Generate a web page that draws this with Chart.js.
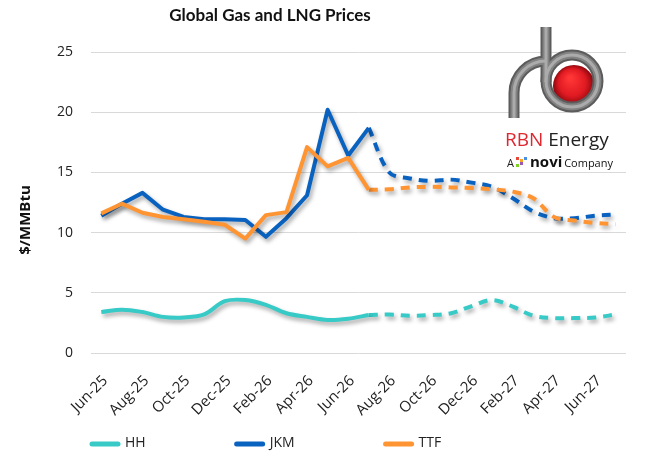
<!DOCTYPE html>
<html>
<head>
<meta charset="utf-8">
<script src="https://cdn.jsdelivr.net/npm/chart.js@4.4.1/dist/chart.umd.min.js"></script>
<style>
  html, body { margin: 0; padding: 0; background: #fff; }
</style>
</head>
<body>
<canvas id="chart" width="650" height="466"></canvas>
<script>
// Meses (Jun-25 .. Jul-27), se rotula uno de cada dos
const months = ['Jun-25', 'Jul-25', 'Aug-25', 'Sep-25', 'Oct-25', 'Nov-25', 'Dec-25', 'Jan-26', 'Feb-26', 'Mar-26',
    'Apr-26', 'May-26', 'Jun-26', 'Jul-26', 'Aug-26', 'Sep-26', 'Oct-26', 'Nov-26', 'Dec-26', 'Jan-27',
    'Feb-27', 'Mar-27', 'Apr-27', 'May-27', 'Jun-27', 'Jul-27']

// $/MMBtu
const hh = [3.4, 3.6, 3.4, 3.0, 2.95, 3.2, 4.3, 4.4, 4.0, 3.3, 3.0, 2.75, 2.85, 3.15,
    3.2, 3.1, 3.15, 3.3, 3.9, 4.4, 3.85, 3.1, 2.9, 2.9, 2.95, 3.2]
const jkm = [11.4, 12.4, 13.3, 11.9, 11.3, 11.1, 11.1, 11.05, 9.65, 11.2, 13.1, 20.2, 16.4, 18.7,
    15.0, 14.5, 14.3, 14.4, 14.15, 13.8, 12.85, 11.75, 11.2, 11.2, 11.4, 11.5]
const ttf = [11.6, 12.4, 11.65, 11.3, 11.1, 10.9, 10.65, 9.5, 11.45, 11.7, 17.1, 15.5, 16.2, 13.55,
    13.6, 13.75, 13.8, 13.75, 13.7, 13.6, 13.4, 12.85, 11.3, 11.0, 10.8, 10.7]

const yTicks = [0, 5, 10, 15, 20, 25]
const lastActual = 13   // Jul-26: despues de este mes la curva es forward (punteada)

const series = [
    { label: 'HH', values: hh, color: '#38CAC6', smooth: 0.35, order: 3 },
    { label: 'JKM', values: jkm, color: '#0A62C0', smooth: 0, order: 2 },
    { label: 'TTF', values: ttf, color: '#FF9433', smooth: 0, order: 1 }
]

// parte historica (solida) y forward (punteada) de cada serie
function histPart(values) { return values.map((v, i) => i <= lastActual ? v : null) }
function fwdPart(values) { return values.map((v, i) => i >= lastActual ? v : null) }

const datasets = []
series.forEach(s => {
    datasets.push({
        label: s.label, data: histPart(s.values), borderColor: s.color, backgroundColor: s.color,
        borderWidth: 4, pointRadius: 0, tension: s.smooth, order: s.order, borderJoinStyle: 'round'
    })
})
series.forEach(s => {
    datasets.push({
        label: s.label + ' fwd', data: fwdPart(s.values), borderColor: s.color, backgroundColor: s.color,
        borderWidth: 4, pointRadius: 0, tension: 0.35, order: s.order, borderDash: [9, 7]
    })
})

// sombra tipo Excel bajo las lineas
const shadowPlugin = {
    id: 'lineShadow',
    beforeDatasetsDraw(chart) {
        const ctx = chart.ctx
        ctx.save()
        ctx.shadowColor = 'rgba(0,0,0,0.35)'
        ctx.shadowBlur = 4
        ctx.shadowOffsetX = 2
        ctx.shadowOffsetY = 3
    },
    afterDatasetsDraw(chart) { chart.ctx.restore() }
}

function drawLogo(ctx) {
    ctx.save()
    // bola roja
    const g = ctx.createRadialGradient(570, 78, 2, 574, 86, 23)
    g.addColorStop(0, '#ff3535')
    g.addColorStop(0.55, '#e01a22')
    g.addColorStop(1, '#6e0006')
    ctx.fillStyle = g
    ctx.beginPath(); ctx.arc(574, 86, 21, 0, Math.PI * 2); ctx.fill()

    // tubo gris "rb"
    const tube = (w, color) => {
        ctx.strokeStyle = color
        ctx.lineWidth = w
        ctx.lineCap = 'butt'
        ctx.beginPath()
        ctx.moveTo(546, 27); ctx.lineTo(546, 82)
        ctx.stroke()
        ctx.beginPath()
        ctx.arc(572, 81, 26, 0, Math.PI * 2)
        ctx.stroke()
        ctx.beginPath()
        ctx.moveTo(514, 118); ctx.lineTo(514, 93)
        ctx.arc(546, 93, 32, Math.PI, Math.PI * 1.5)
        ctx.stroke()
    }
    tube(11, '#5c5c5c')
    tube(7, '#838383')
    tube(3, '#ababab')

    // texto
    ctx.textBaseline = 'alphabetic'
    ctx.textAlign = 'left'
    ctx.font = '19px "Open Sans"'
    ctx.fillStyle = '#e0262f'
    ctx.fillText('RBN', 505, 146)
    const w = ctx.measureText('RBN ').width
    ctx.fillStyle = '#222'
    ctx.fillText('Energy', 505 + w, 146)

    ctx.font = '11px "Open Sans"'
    ctx.fillStyle = '#222'
    ctx.fillText('A', 507, 167)
    // icono novi
    const cols = ['#e8483b', '#f5a623', '#4a90e2', '#7ed321', '#9b59b6']
    for (let i = 0; i < 5; i++) {
        ctx.fillStyle = cols[i]
        ctx.fillRect(516 + (i % 3) * 4, 157 + Math.floor(i / 3) * 5 + (i % 2) * 2, 3, 3)
    }
    ctx.font = 'bold 15px "Open Sans"'
    ctx.fillStyle = '#111'
    ctx.fillText('novi', 530, 167)
    const nw = ctx.measureText('novi ').width
    ctx.font = '11px "Open Sans"'
    ctx.fillText('Company', 530 + nw - 2, 167)
    ctx.restore()
}

// titulo, titulo del eje Y, leyenda y logo
const decorPlugin = {
    id: 'decor',
    afterDraw(chart) {
        const ctx = chart.ctx
        ctx.save()
        ctx.font = 'bold 17px Lato'
        ctx.fillStyle = '#111'
        ctx.textAlign = 'center'
        ctx.textBaseline = 'middle'
        ctx.fillText('Global Gas and LNG Prices', 270, 16)

        ctx.translate(26, 220)
        ctx.rotate(-Math.PI / 2)
        ctx.font = 'bold 15px "Open Sans"'
        ctx.fillText('$/MMBtu', 0, 0)
        ctx.restore()

        ctx.save()
        ctx.font = '14px "Open Sans"'
        ctx.textBaseline = 'middle'
        let x = 90
        series.forEach(s => {
            ctx.strokeStyle = s.color
            ctx.lineWidth = 5
            ctx.lineCap = 'round'
            ctx.beginPath(); ctx.moveTo(x + 2, 444); ctx.lineTo(x + 28, 444); ctx.stroke()
            ctx.fillStyle = '#222'
            ctx.fillText(s.label, x + 35, 443)
            x += 35 + ctx.measureText(s.label).width + 89
        })
        ctx.restore()

        drawLogo(ctx)
    }
}

new Chart(document.getElementById('chart'), {
    type: 'line',
    data: { labels: months, datasets },
    options: {
        responsive: false,
        animation: false,
        layout: { padding: { left: 0, right: 24, top: 52, bottom: 40 } },
        plugins: {
            legend: { display: false },
            tooltip: { enabled: false },
            title: { display: false }
        },
        scales: {
            x: {
                offset: true,
                grid: { display: false },
                border: { display: false },
                ticks: {
                    autoSkip: false, maxRotation: 45, minRotation: 45, color: '#222', padding: 11, labelOffset: 4,
                    font: { family: 'Open Sans', size: 15 },
                    callback: (v, i) => i % 2 === 0 ? months[i] : ''
                },
                afterFit: s => { s.height = 73 }
            },
            y: {
                min: 0, max: 25,
                afterBuildTicks: s => { s.ticks = yTicks.map(v => ({ value: v })) },
                grid: { color: '#d9d9d9', drawTicks: false },
                border: { display: false },
                ticks: { color: '#222', padding: 18, font: { family: 'Open Sans', size: 14 } },
                afterFit: s => { s.width = 91 }
            }
        }
    },
    plugins: [shadowPlugin, decorPlugin]
})
</script>
</body>
</html>
